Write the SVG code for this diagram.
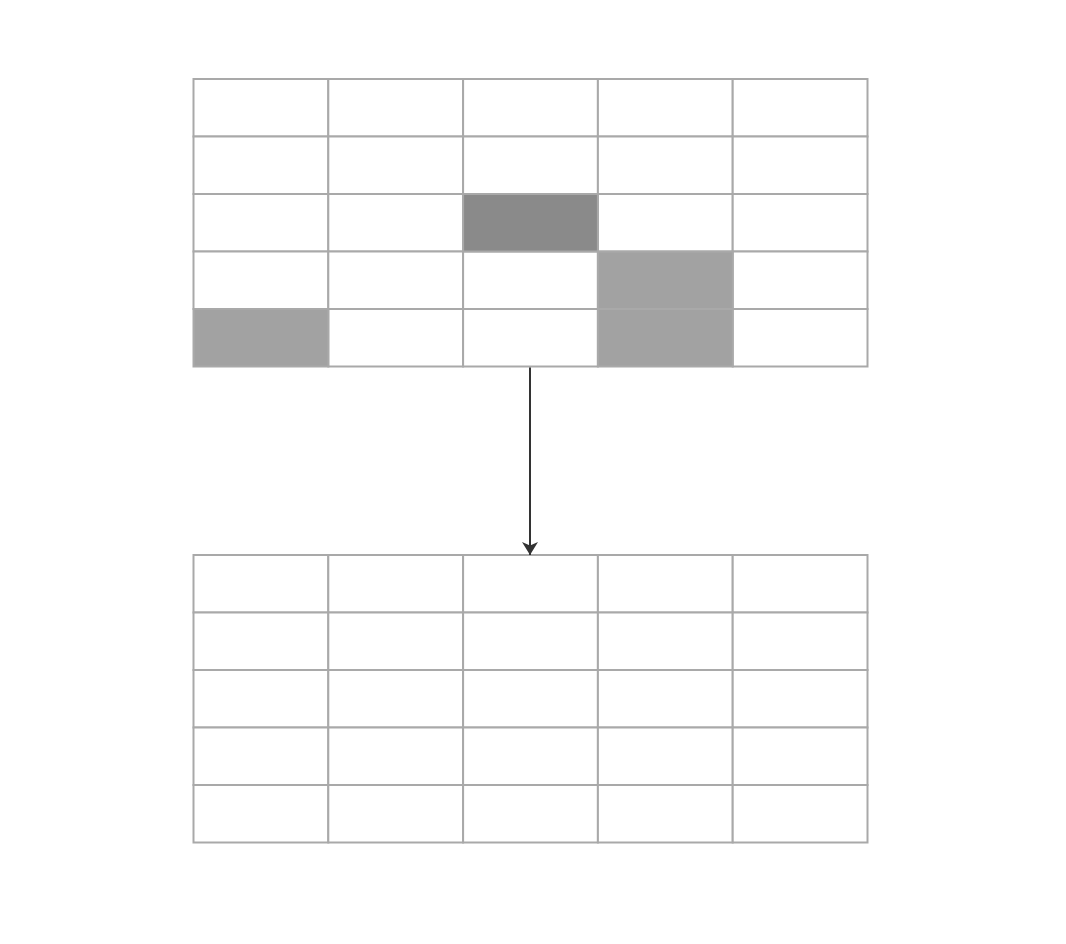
<svg xmlns="http://www.w3.org/2000/svg" width="1066" height="944" viewBox="0 0 1066 944">
<style>
.c{fill:#ffffff;stroke:#a9a9a9;stroke-width:2}
.d{fill:#8a8a8a;stroke:#a9a9a9;stroke-width:2}
.m{fill:#a2a2a2;stroke:#a9a9a9;stroke-width:2}
.e{stroke:#333333;stroke-width:2;fill:none}
</style>
<defs>
<marker id="ah" markerWidth="16" markerHeight="18" refX="13" refY="8.5" orient="auto" markerUnits="userSpaceOnUse">
<path d="M0,0.5 L13,8.5 L0,16.5 L3.5,8.5 Z" fill="#333333"/>
</marker>
</defs>
<rect width="1066" height="944" fill="#ffffff"/>
<g id="top-grid">
<rect class="c" x="193.5" y="79" width="134.8" height="57.5"/><rect class="c" x="328.3" y="79" width="134.8" height="57.5"/><rect class="c" x="463.1" y="79" width="134.8" height="57.5"/><rect class="c" x="597.9" y="79" width="134.8" height="57.5"/><rect class="c" x="732.7" y="79" width="134.8" height="57.5"/>
<rect class="c" x="193.5" y="136.5" width="134.8" height="57.5"/><rect class="c" x="328.3" y="136.5" width="134.8" height="57.5"/><rect class="c" x="463.1" y="136.5" width="134.8" height="57.5"/><rect class="c" x="597.9" y="136.5" width="134.8" height="57.5"/><rect class="c" x="732.7" y="136.5" width="134.8" height="57.5"/>
<rect class="c" x="193.5" y="194" width="134.8" height="57.5"/><rect class="c" x="328.3" y="194" width="134.8" height="57.5"/><rect class="c" x="597.9" y="194" width="134.8" height="57.5"/><rect class="c" x="732.7" y="194" width="134.8" height="57.5"/>
<rect class="c" x="193.5" y="251.5" width="134.8" height="57.5"/><rect class="c" x="328.3" y="251.5" width="134.8" height="57.5"/><rect class="c" x="463.1" y="251.5" width="134.8" height="57.5"/><rect class="c" x="732.7" y="251.5" width="134.8" height="57.5"/>
<rect class="c" x="328.3" y="309" width="134.8" height="57.5"/><rect class="c" x="463.1" y="309" width="134.8" height="57.5"/><rect class="c" x="732.7" y="309" width="134.8" height="57.5"/>
<rect class="d" x="463.1" y="194" width="134.8" height="57.5"/>
<rect class="m" x="597.9" y="251.5" width="134.8" height="57.5"/>
<rect class="m" x="597.9" y="309" width="134.8" height="57.5"/>
<rect class="m" x="193.5" y="309" width="134.8" height="57.5"/>
</g>
<g id="bottom-grid">
<rect class="c" x="193.5" y="555" width="134.8" height="57.5"/><rect class="c" x="328.3" y="555" width="134.8" height="57.5"/><rect class="c" x="463.1" y="555" width="134.8" height="57.5"/><rect class="c" x="597.9" y="555" width="134.8" height="57.5"/><rect class="c" x="732.7" y="555" width="134.8" height="57.5"/>
<rect class="c" x="193.5" y="612.5" width="134.8" height="57.5"/><rect class="c" x="328.3" y="612.5" width="134.8" height="57.5"/><rect class="c" x="463.1" y="612.5" width="134.8" height="57.5"/><rect class="c" x="597.9" y="612.5" width="134.8" height="57.5"/><rect class="c" x="732.7" y="612.5" width="134.8" height="57.5"/>
<rect class="c" x="193.5" y="670" width="134.8" height="57.5"/><rect class="c" x="328.3" y="670" width="134.8" height="57.5"/><rect class="c" x="463.1" y="670" width="134.8" height="57.5"/><rect class="c" x="597.9" y="670" width="134.8" height="57.5"/><rect class="c" x="732.7" y="670" width="134.8" height="57.5"/>
<rect class="c" x="193.5" y="727.5" width="134.8" height="57.5"/><rect class="c" x="328.3" y="727.5" width="134.8" height="57.5"/><rect class="c" x="463.1" y="727.5" width="134.8" height="57.5"/><rect class="c" x="597.9" y="727.5" width="134.8" height="57.5"/><rect class="c" x="732.7" y="727.5" width="134.8" height="57.5"/>
<rect class="c" x="193.5" y="785" width="134.8" height="57.5"/><rect class="c" x="328.3" y="785" width="134.8" height="57.5"/><rect class="c" x="463.1" y="785" width="134.8" height="57.5"/><rect class="c" x="597.9" y="785" width="134.8" height="57.5"/><rect class="c" x="732.7" y="785" width="134.8" height="57.5"/>
</g>
<g id="connectors">
<line class="e" x1="530" y1="367.5" x2="530" y2="555" marker-end="url(#ah)"/>
</g>
</svg>
